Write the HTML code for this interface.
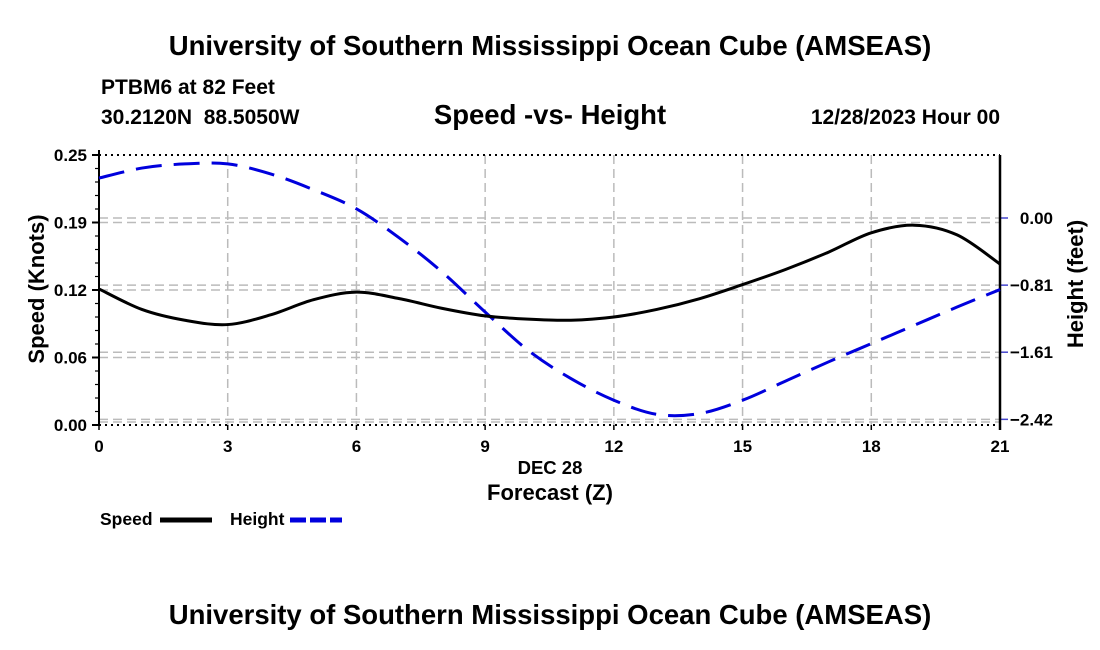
<!DOCTYPE html>
<html><head><meta charset="utf-8"><style>
body{margin:0;background:#fff;}
svg{display:block;font-family:"Liberation Sans",sans-serif;font-weight:bold;}
</style></head><body>
<svg id="chart" width="1100" height="650" xmlns="http://www.w3.org/2000/svg">
<text x="550" y="55" text-anchor="middle" font-size="27.5">University of Southern Mississippi Ocean Cube (AMSEAS)</text>
<text x="101" y="94" font-size="21">PTBM6 at 82 Feet</text>
<text x="101" y="124" font-size="21" xml:space="preserve" style="white-space:pre">30.2120N  88.5050W</text>
<text x="550" y="124" text-anchor="middle" font-size="27.5">Speed -vs- Height</text>
<text x="1000" y="124" text-anchor="end" font-size="21">12/28/2023 Hour 00</text>
<g id="grid"></g>
<g id="axes"></g>
<path id="heightLine" fill="none" stroke="#0000dd" stroke-width="3" stroke-dasharray="26,12"/>
<path id="speedLine" fill="none" stroke="#000" stroke-width="3"/>
<text transform="translate(44,289) rotate(-90)" text-anchor="middle" font-size="22">Speed (Knots)</text>
<text transform="translate(1083,284) rotate(-90)" text-anchor="middle" font-size="22">Height (feet)</text>
<text x="550" y="474" text-anchor="middle" font-size="18.5">DEC 28</text>
<text x="550" y="500" text-anchor="middle" font-size="22">Forecast (Z)</text>
<g>
<text x="100" y="525" font-size="17.5">Speed</text>
<line x1="160" y1="520" x2="212" y2="520" stroke="#000" stroke-width="5"/>
<text x="230" y="525" font-size="17.5">Height</text>
<line x1="290" y1="520" x2="342" y2="520" stroke="#0000dd" stroke-width="5" stroke-dasharray="16,4"/>
</g>
<text x="550" y="624" text-anchor="middle" font-size="27.5">University of Southern Mississippi Ocean Cube (AMSEAS)</text>
</svg>
<script>
const hours=[0,1,2,3,4,5,6,7,8,9,10,11,12,13,14,15,16,17,18,19,20,21];
const speed=[0.126,0.107,0.097,0.093,0.102,0.116,0.123,0.117,0.108,0.101,0.098,0.097,0.100,0.107,0.117,0.130,0.144,0.160,0.178,0.185,0.176,0.149];
const height=[0.48,0.60,0.65,0.65,0.53,0.34,0.11,-0.24,-0.65,-1.13,-1.59,-1.93,-2.19,-2.36,-2.35,-2.19,-1.96,-1.73,-1.51,-1.29,-1.07,-0.86];
const xTicks=[0,3,6,9,12,15,18,21];
const speedTicks=[0,0.0625,0.125,0.1875,0.25];
const speedTickLabels=["0.00","0.06","0.12","0.19","0.25"];
const heightTicks=[0,-0.807,-1.613,-2.42];
const heightTickLabels=["0.00","\u22120.81","\u22121.61","\u22122.42"];
const L=99,R=1000,T=155,B=425;
const xs=h=>L+(h/21)*(R-L);
const ys=v=>B-(v/0.25)*(B-T);
const yh=v=>218-v*83.2;
const NS="http://www.w3.org/2000/svg";
function mk(tag,attrs,parent){const e=document.createElementNS(NS,tag);for(const k in attrs)e.setAttribute(k,attrs[k]);parent.appendChild(e);return e;}
const grid=document.getElementById('grid'),axes=document.getElementById('axes');
xTicks.forEach(h=>{
  if(h>0&&h<21){const g=mk('line',{x1:xs(h),x2:xs(h),y1:T,y2:B,stroke:'#bbb','stroke-width':1.5,'stroke-dasharray':'9,5'},grid);
  
  }
  const t=mk('text',{x:xs(h),y:B+27,'text-anchor':'middle','font-size':17},axes);t.textContent=h;
  
  
  mk('line',{x1:xs(h),x2:xs(h),y1:B,y2:B+5,stroke:'#000','stroke-width':1.5},axes);
});
speedTicks.forEach((v,i)=>{
  if(i<4){const g=mk('line',{x1:L,x2:R,y1:ys(v)-(i==0?3:0),y2:ys(v)-(i==0?3:0),stroke:'#bbb','stroke-width':1.5,'stroke-dasharray':'9,5'},grid);
  
  }
  mk('line',{x1:L-7,x2:L,y1:ys(v),y2:ys(v),stroke:'#000','stroke-width':2},axes);
  const t=mk('text',{x:L-12,y:ys(v)+6,'text-anchor':'end','font-size':17},axes);t.textContent=speedTickLabels[i];
  
  
});
for(let k=1;k<20;k++){if(k%5==0)continue;const y=B-k*(B-T)/20;mk('line',{x1:L-4,x2:L,y1:y,y2:y,stroke:'#000','stroke-width':1.2},axes);}
heightTicks.forEach((v,i)=>{
  const g=mk('line',{x1:L,x2:R,y1:yh(v),y2:yh(v),stroke:'#bbb','stroke-width':1.5,'stroke-dasharray':'9,5'},grid);
  
  
  mk('line',{x1:R,x2:R+8,y1:yh(v),y2:yh(v),stroke:'#4444cc','stroke-width':1.5},axes);
  const t=mk('text',{x:1053,y:yh(v)+6,'text-anchor':'end','font-size':17},axes);t.textContent=heightTickLabels[i];
  
  
});
mk('line',{x1:L,x2:L,y1:T-5,y2:B,stroke:'#000','stroke-width':2},axes);
mk('line',{x1:R,x2:R,y1:T,y2:B+5,stroke:'#000','stroke-width':2.5},axes);
mk('line',{x1:L,x2:R,y1:T,y2:T,stroke:'#000','stroke-width':2,'stroke-dasharray':'2,4'},axes);
mk('line',{x1:L,x2:R,y1:B,y2:B,stroke:'#000','stroke-width':2,'stroke-dasharray':'2,4'},axes);
function smooth(pts){let d='M'+pts[0][0]+','+pts[0][1];
  for(let i=0;i<pts.length-1;i++){const p0=pts[Math.max(i-1,0)],p1=pts[i],p2=pts[i+1],p3=pts[Math.min(i+2,pts.length-1)];
    d+=' C'+(p1[0]+(p2[0]-p0[0])/6)+','+(p1[1]+(p2[1]-p0[1])/6)+' '+(p2[0]-(p3[0]-p1[0])/6)+','+(p2[1]-(p3[1]-p1[1])/6)+' '+p2[0]+','+p2[1];}
  return d;}
document.getElementById('speedLine').setAttribute('d',smooth(hours.map((h,i)=>[xs(h),ys(speed[i])])));
document.getElementById('heightLine').setAttribute('d',smooth(hours.map((h,i)=>[xs(h),yh(height[i])])));
</script>
</body></html>
